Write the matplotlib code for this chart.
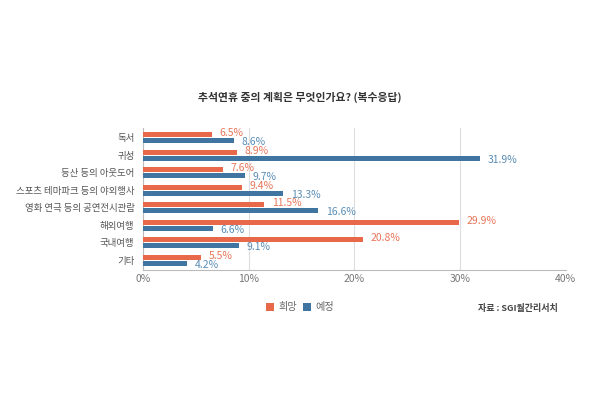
import numpy as np
import matplotlib.pyplot as plt

plt.rcParams['font.family'] = ['Noto Sans CJK KR', 'DejaVu Sans']

categories = ["독서", "귀성", "등산 등의 아웃도어", "스포츠 테마파크 등의 야외행사",
              "영화 연극 등의 공연전시관람", "해외여행", "국내여행", "기타"]
hope = [6.5, 8.9, 7.6, 9.4, 11.5, 29.9, 20.8, 5.5]
plan = [8.6, 31.9, 9.7, 13.3, 16.6, 6.6, 9.1, 4.2]

c_hope = "#E8694A"
c_plan = "#3F75A0"

fig = plt.figure(figsize=(6, 4), dpi=100)
ax = fig.add_axes([0.238, 0.325, 0.705, 0.355])

y = np.arange(len(categories))
h = 0.28
off = 0.17
ax.barh(y - off, hope, height=h, color=c_hope, label="희망", zorder=3)
ax.barh(y + off, plan, height=h, color=c_plan, label="예정", zorder=3)

# value labels next to each bar
for yi, v in zip(y, hope):
    ax.text(v + 0.7, yi - off - 0.08, f"{v}%", color="#E8765A", fontsize=7.5, va="center")
for yi, v in zip(y, plan):
    ax.text(v + 0.7, yi + off + 0.08, f"{v}%", color="#5A8DB5", fontsize=7.5, va="center")

ax.set_xlim(0, 40)
ax.set_ylim(len(categories) - 0.45, -0.55)
ax.set_yticks(y)
ax.set_yticklabels(categories, fontsize=6.8, color="#555555")
ax.set_xticks([0, 10, 20, 30, 40])
ax.set_xticklabels(["0%", "10%", "20%", "30%", "40%"], fontsize=7.5, color="#777777")
ax.tick_params(axis="y", length=0, pad=6)
ax.tick_params(axis="x", length=0, pad=3)
ax.grid(axis="x", color="#dddddd", linewidth=0.8, zorder=0)
for s in ["top", "right"]:
    ax.spines[s].set_visible(False)
for s in ["left", "bottom"]:
    ax.spines[s].set_color("#bbbbbb")

fig.text(0.5, 0.757, "추석연휴 중의 계획은 무엇인가요? (복수응답)", ha="center", va="center",
         fontsize=7.8, fontweight="bold", style="italic", color="#333333")

fig.legend(loc="center", bbox_to_anchor=(0.5, 0.232), ncol=2, frameon=False,
           fontsize=7.3, handlelength=0.8, handleheight=0.8, columnspacing=0.6,
           handletextpad=0.4, labelcolor="#666666")

fig.text(0.93, 0.23, "자료 : SGI월간리서치", ha="right", va="center", fontsize=6.5,
         fontweight="bold", style="italic", color="#444444")

plt.savefig("out.png", dpi=100)
